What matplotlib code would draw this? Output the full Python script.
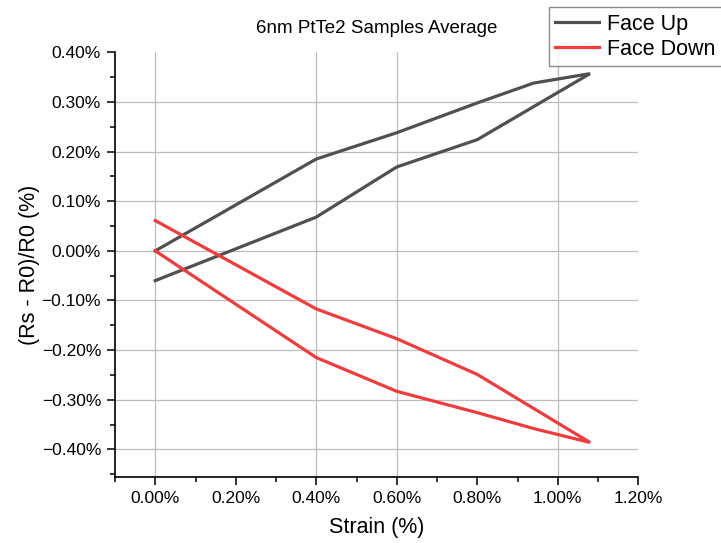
import numpy as np
import matplotlib
matplotlib.use("Agg")
import matplotlib.pyplot as plt
from matplotlib.ticker import MultipleLocator, FuncFormatter

plt.rcParams["font.family"] = ["Liberation Sans", "DejaVu Sans"]

# strain (%) and (Rs - R0)/R0 (%)
up_strain = [0.0, 0.4, 0.6, 0.8, 0.94, 1.08, 0.8, 0.6, 0.4, 0.0]
up_resist = [0.0, 0.185, 0.238, 0.298, 0.338, 0.357, 0.224, 0.169, 0.068, -0.060]

down_strain = [0.0, 0.4, 0.6, 0.8, 0.94, 1.08, 0.8, 0.6, 0.4, 0.0]
down_resist = [0.0, -0.215, -0.283, -0.326, -0.358, -0.386, -0.249, -0.177, -0.117, 0.061]

x_ticks = [0.0, 0.2, 0.4, 0.6, 0.8, 1.0, 1.2]
y_ticks = [-0.4, -0.3, -0.2, -0.1, 0.0, 0.1, 0.2, 0.3, 0.4]


def pct(v, pos=None):
    return f"{v:.2f}%".replace("-", "\u2212")


fig = plt.figure(figsize=(7.21, 5.43), dpi=100)
ax = fig.add_axes([0.1595, 0.1221, 0.8853 - 0.1595, 0.9037 - 0.1221])

ax.plot(up_strain, up_resist, color="#505050", lw=2.3, label="Face Up",
        solid_joinstyle="miter", zorder=3)
ax.plot(down_strain, down_resist, color="#f03c3c", lw=2.3, label="Face Down",
        solid_joinstyle="miter", zorder=3)

ax.set_xlim(-0.1, 1.2)
ax.set_ylim(-0.455, 0.40)
ax.set_xticks(x_ticks)
ax.set_yticks(y_ticks)
ax.xaxis.set_minor_locator(MultipleLocator(0.1))
ax.yaxis.set_minor_locator(MultipleLocator(0.05))
ax.xaxis.set_major_formatter(FuncFormatter(pct))
ax.yaxis.set_major_formatter(FuncFormatter(pct))

ax.tick_params(axis="both", which="major", length=6, width=1.1, labelsize=12.5,
               color="black", pad=4)
ax.tick_params(axis="both", which="minor", length=3.5, width=1.1)

for s in ["top", "right"]:
    ax.spines[s].set_visible(False)
for s in ["left", "bottom"]:
    ax.spines[s].set_linewidth(1.2)

ax.grid(True, which="major", color="#bdbdbd", lw=0.9, zorder=0)
# the reference shows no grid on the frame edges nor at 0.2/0.8
for t, v in zip(ax.xaxis.get_major_ticks(), ax.get_xticks()):
    if np.isclose(v, 1.2) or np.isclose(v, 0.2) or np.isclose(v, 0.8):
        t.gridline.set_visible(False)
for t, v in zip(ax.yaxis.get_major_ticks(), ax.get_yticks()):
    if np.isclose(v, 0.4):
        t.gridline.set_visible(False)

ax.set_xlabel("Strain (%)", fontsize=15.5, labelpad=8)
ax.set_ylabel("(Rs - R0)/R0 (%)", fontsize=15.5, labelpad=1)
fig.text(0.523, 0.948, "6nm PtTe2 Samples Average", ha="center", va="center",
         fontsize=13.5)

leg = fig.legend(loc="upper left", bbox_to_anchor=(0.7615, 0.987),
                 fontsize=15.5, frameon=True, fancybox=False,
                 handlelength=2.0, handletextpad=0.4, borderpad=0.3,
                 labelspacing=0.2, borderaxespad=0)
leg.get_frame().set_edgecolor("#707070")
leg.get_frame().set_linewidth(1.0)

fig.savefig("out.png", dpi=100)
